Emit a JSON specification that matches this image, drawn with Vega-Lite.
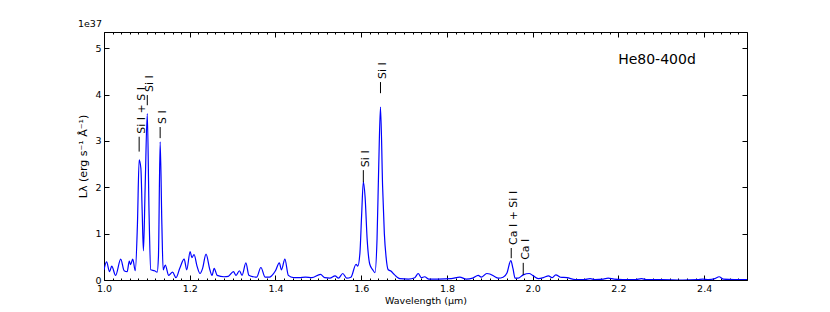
{
  "$schema": "https://vega.github.io/schema/vega-lite/v6.json",
  "width": 643,
  "height": 248,
  "autosize": {"type": "none"},
  "padding": {"left": 104, "top": 32, "right": 83, "bottom": 32},
  "background": "white",
  "title": {"text": "1e37", "anchor": "start", "fontSize": 9.5, "fontWeight": "normal", "font": "DejaVu Sans", "offset": 3, "color": "black"},
  "config": {
    "view": {"stroke": "black", "strokeWidth": 1},
    "axis": {"domain": false, "grid": false, "labelFlush": false, "labelFont": "DejaVu Sans", "titleFont": "DejaVu Sans", "labelFontSize": 9.5, "titleFontSize": 9.5, "titleFontWeight": "normal", "labelColor": "black", "titleColor": "black", "tickColor": "black"}
  },
  "datasets": {
    "spec": [
      {"w":1.000,"L":0.22},{"w":1.006,"L":0.39},{"w":1.013,"L":0.18},{"w":1.018,"L":0.30},{"w":1.027,"L":0.10},
      {"w":1.039,"L":0.45},{"w":1.047,"L":0.20},{"w":1.054,"L":0.18},{"w":1.059,"L":0.41},{"w":1.062,"L":0.33},
      {"w":1.067,"L":0.45},{"w":1.073,"L":0.20},{"w":1.078,"L":1.2},{"w":1.082,"L":2.59},{"w":1.086,"L":2.41},
      {"w":1.089,"L":1.5},{"w":1.092,"L":0.63},{"w":1.096,"L":2.0},{"w":1.101,"L":3.59},{"w":1.105,"L":1.5},
      {"w":1.109,"L":0.22},{"w":1.118,"L":0.20},{"w":1.124,"L":0.17},{"w":1.127,"L":0.5},{"w":1.131,"L":2.98},
      {"w":1.135,"L":1.2},{"w":1.138,"L":0.22},{"w":1.143,"L":0.32},{"w":1.151,"L":0.10},{"w":1.160,"L":0.17},
      {"w":1.168,"L":0.05},{"w":1.177,"L":0.26},{"w":1.187,"L":0.45},{"w":1.193,"L":0.22},{"w":1.201,"L":0.61},
      {"w":1.205,"L":0.48},{"w":1.210,"L":0.55},{"w":1.217,"L":0.30},{"w":1.224,"L":0.14},{"w":1.230,"L":0.25},
      {"w":1.238,"L":0.56},{"w":1.247,"L":0.22},{"w":1.252,"L":0.10},{"w":1.257,"L":0.25},{"w":1.264,"L":0.10},
      {"w":1.280,"L":0.07},{"w":1.290,"L":0.08},{"w":1.302,"L":0.18},{"w":1.308,"L":0.10},{"w":1.316,"L":0.20},
      {"w":1.322,"L":0.10},{"w":1.331,"L":0.37},{"w":1.338,"L":0.10},{"w":1.348,"L":0.07},{"w":1.356,"L":0.06},
      {"w":1.366,"L":0.27},{"w":1.376,"L":0.06},{"w":1.386,"L":0.06},{"w":1.392,"L":0.10},{"w":1.400,"L":0.20},
      {"w":1.409,"L":0.37},{"w":1.414,"L":0.22},{"w":1.422,"L":0.45},{"w":1.430,"L":0.10},{"w":1.442,"L":0.05},
      {"w":1.455,"L":0.05},{"w":1.470,"L":0.06},{"w":1.485,"L":0.05},{"w":1.505,"L":0.12},{"w":1.515,"L":0.05},
      {"w":1.527,"L":0.04},{"w":1.539,"L":0.09},{"w":1.547,"L":0.04},{"w":1.557,"L":0.14},{"w":1.566,"L":0.04},
      {"w":1.576,"L":0.06},{"w":1.588,"L":0.34},{"w":1.592,"L":0.30},{"w":1.597,"L":0.58},{"w":1.601,"L":1.4},
      {"w":1.605,"L":2.12},{"w":1.609,"L":1.8},{"w":1.614,"L":0.86},{"w":1.620,"L":0.34},{"w":1.627,"L":0.22},
      {"w":1.632,"L":0.16},{"w":1.637,"L":0.9},{"w":1.641,"L":2.5},{"w":1.645,"L":3.73},{"w":1.650,"L":2.0},
      {"w":1.654,"L":1.0},{"w":1.658,"L":0.50},{"w":1.663,"L":0.22},{"w":1.670,"L":0.19},{"w":1.677,"L":0.12},
      {"w":1.690,"L":0.03},{"w":1.710,"L":0.02},{"w":1.725,"L":0.05},{"w":1.733,"L":0.14},{"w":1.740,"L":0.05},
      {"w":1.748,"L":0.07},{"w":1.758,"L":0.02},{"w":1.780,"L":0.02},{"w":1.810,"L":0.03},{"w":1.830,"L":0.06},
      {"w":1.845,"L":0.02},{"w":1.860,"L":0.04},{"w":1.873,"L":0.10},{"w":1.880,"L":0.06},{"w":1.893,"L":0.14},
      {"w":1.900,"L":0.13},{"w":1.910,"L":0.08},{"w":1.920,"L":0.04},{"w":1.931,"L":0.06},{"w":1.940,"L":0.15},
      {"w":1.949,"L":0.42},{"w":1.954,"L":0.25},{"w":1.959,"L":0.04},{"w":1.966,"L":0.04},{"w":1.978,"L":0.11},
      {"w":1.992,"L":0.14},{"w":2.000,"L":0.10},{"w":2.013,"L":0.03},{"w":2.025,"L":0.05},{"w":2.037,"L":0.09},
      {"w":2.045,"L":0.05},{"w":2.054,"L":0.11},{"w":2.065,"L":0.06},{"w":2.080,"L":0.05},{"w":2.100,"L":0.01},
      {"w":2.120,"L":0.01},{"w":2.134,"L":0.03},{"w":2.145,"L":0.01},{"w":2.165,"L":0.02},{"w":2.176,"L":0.04},
      {"w":2.190,"L":0.02},{"w":2.210,"L":0.01},{"w":2.240,"L":0.01},{"w":2.254,"L":0.03},{"w":2.265,"L":0.01},
      {"w":2.300,"L":0.01},{"w":2.350,"L":0.00},{"w":2.385,"L":0.01},{"w":2.397,"L":0.02},{"w":2.410,"L":0.01},
      {"w":2.425,"L":0.03},{"w":2.435,"L":0.07},{"w":2.445,"L":0.02},{"w":2.470,"L":0.01},{"w":2.500,"L":0.01}
    ],
    "ann": [
      {"w":1.082,"y":2.77,"y2":3.09,"label":"Si I + S I"},
      {"w":1.101,"y":3.77,"y2":3.99,"label":"Si I"},
      {"w":1.131,"y":3.06,"y2":3.30,"label":"S I"},
      {"w":1.605,"y":2.11,"y2":2.37,"label":"Si I"},
      {"w":1.645,"y":4.03,"y2":4.27,"label":"Si I"},
      {"w":1.950,"y":0.47,"y2":0.69,"label":"Ca I + Si I"},
      {"w":1.978,"y":0.11,"y2":0.37,"label":"Ca I"}
    ],
    "lab": [{"w":2.29,"y":4.74,"text":"He80-400d"}]
  },
  "layer": [
    {
      "data": {"name": "spec"},
      "mark": {"type": "line", "color": "#0000ff", "strokeWidth": 1.2, "interpolate": "monotone", "clip": true},
      "encoding": {
        "x": {"field": "w", "type": "quantitative", "scale": {"domain": [1, 2.5], "nice": false, "zero": false},
              "axis": {"orient": "bottom", "values": [1,1.2,1.4,1.6,1.8,2.0,2.2,2.4], "format": ".1f", "tickSize": -5, "labelPadding": 8, "title": "Wavelength (μm)", "titlePadding": 3}},
        "y": {"field": "L", "type": "quantitative", "scale": {"domain": [0, 5.35], "nice": false},
              "axis": {"orient": "left", "values": [0,1,2,3,4,5], "tickSize": -5, "labelPadding": 8, "title": "Lλ (erg s⁻¹ Å⁻¹)", "titleFontSize": 11, "titlePadding": 6}}
      }
    },
    {
      "data": {"name": "ann"},
      "mark": {"type": "rule", "color": "black", "strokeWidth": 1},
      "encoding": {
        "x": {"field": "w", "type": "quantitative", "axis": {"orient": "top", "values": [1,1.2,1.4,1.6,1.8,2.0,2.2,2.4], "tickSize": -5, "labels": false, "title": null}},
        "y": {"field": "y", "type": "quantitative", "axis": {"orient": "right", "values": [0,1,2,3,4,5], "tickSize": -5, "labels": false, "title": null}},
        "y2": {"field": "y2"}
      }
    },
    {
      "data": {"name": "ann"},
      "mark": {"type": "text", "angle": 270, "align": "left", "baseline": "middle", "dx": 3, "dy": 3, "fontSize": 11, "font": "DejaVu Sans", "color": "black"},
      "encoding": {
        "x": {"field": "w", "type": "quantitative", "axis": {"orient": "bottom", "values": [1,1.02,1.04,1.06,1.08,1.1,1.12,1.14,1.16,1.18,1.2,1.22,1.24,1.26,1.28,1.3,1.32,1.34,1.36,1.38,1.4,1.42,1.44,1.46,1.48,1.5,1.52,1.54,1.56,1.58,1.6,1.62,1.64,1.66,1.68,1.7,1.72,1.74,1.76,1.78,1.8,1.82,1.84,1.86,1.88,1.9,1.92,1.94,1.96,1.98,2,2.02,2.04,2.06,2.08,2.1,2.12,2.14,2.16,2.18,2.2,2.22,2.24,2.26,2.28,2.3,2.32,2.34,2.36,2.38,2.4,2.42,2.44,2.46,2.48,2.5], "tickSize": -2, "labels": false, "title": null}},
        "y": {"field": "y2", "type": "quantitative", "axis": null},
        "text": {"field": "label"}
      }
    },
    {
      "data": {"name": "lab"},
      "mark": {"type": "text", "fontSize": 14, "font": "DejaVu Sans", "color": "black", "align": "center", "baseline": "middle"},
      "encoding": {
        "x": {"field": "w", "type": "quantitative", "axis": {"orient": "top", "values": [1,1.02,1.04,1.06,1.08,1.1,1.12,1.14,1.16,1.18,1.2,1.22,1.24,1.26,1.28,1.3,1.32,1.34,1.36,1.38,1.4,1.42,1.44,1.46,1.48,1.5,1.52,1.54,1.56,1.58,1.6,1.62,1.64,1.66,1.68,1.7,1.72,1.74,1.76,1.78,1.8,1.82,1.84,1.86,1.88,1.9,1.92,1.94,1.96,1.98,2,2.02,2.04,2.06,2.08,2.1,2.12,2.14,2.16,2.18,2.2,2.22,2.24,2.26,2.28,2.3,2.32,2.34,2.36,2.38,2.4,2.42,2.44,2.46,2.48,2.5], "tickSize": -2, "labels": false, "title": null}},
        "y": {"field": "y", "type": "quantitative", "axis": null},
        "text": {"field": "text"}
      }
    }
  ],
  "resolve": {"axis": {"x": "independent", "y": "independent"}}
}
